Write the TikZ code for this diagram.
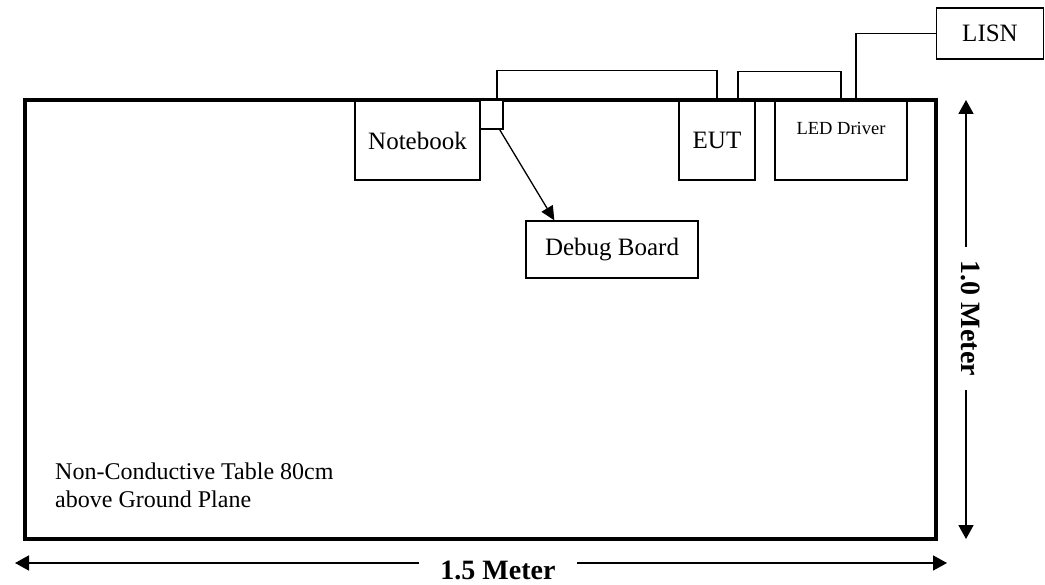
\documentclass[tikz,border=0pt]{standalone}
\usepackage{fontspec}
\setmainfont{Liberation Serif}
\usetikzlibrary{arrows.meta}
\begin{document}
\begin{tikzpicture}[x=1pt,y=-1pt,
  box/.style={draw=black,line width=1.3pt,fill=white,inner sep=0pt,align=center,font=\fontsize{25}{28}\selectfont},
  cable/.style={draw=black,line width=1.3pt},
  dimarrow/.style={draw=black,line width=1.8pt,{Triangle[length=14pt,width=15pt]}-{Triangle[length=14pt,width=15pt]}},
  dimlabel/.style={fill=white,inner sep=0pt,font=\fontsize{28}{30}\selectfont\bfseries}]
\useasboundingbox (0,0) rectangle (1045,585);
% table
\node[draw=black,line width=3.2pt,minimum width=911pt,minimum height=439pt,inner sep=0pt] (table) at (480.5,319.5) {};
% devices
\node[box,minimum width=125pt,minimum height=79pt] (notebook) at (417.5,140.5) {Notebook};
\node[box,minimum width=23pt,minimum height=29pt] (port) at (491.5,114.5) {};
\node[box,minimum width=76pt,minimum height=79pt] (eut) at (717,140.5) {EUT};
\node[box,minimum width=132pt,minimum height=79pt] (led) at (841,140.5) {};
\node[font=\fontsize{18.5}{20}\selectfont,inner sep=0pt] (ledtext) at (841,128) {LED Driver};
\node[box,minimum width=107pt,minimum height=51pt] (lisn) at (990,33.5) {LISN};
\node[box,minimum width=172pt,minimum height=57pt] (debug) at (612,249.5) {Debug Board};
% cables
\draw[cable] ([xshift=5.5pt]port.north) -- ++(0,-29) -| (eut.north);
\draw[cable] ([xshift=21pt]eut.north) -- ++(0,-29) -| (led.north);
\draw[cable] ([xshift=15pt]led.north) |- (lisn.west);
\draw[cable,-{Triangle[length=14pt,width=13pt]}] ([xshift=-4pt]port.south east) -- ([xshift=29pt]debug.north west);
% table label
\node[anchor=west,align=left,inner sep=0pt,font=\fontsize{24}{28}\selectfont] (note) at (55,485) {Non-Conductive Table 80cm\\above Ground Plane};
% dimensions
\coordinate (vtop) at (966,100);
\coordinate (vbot) at (966,539);
\coordinate (hl) at (15,563);
\coordinate (hr) at (947,563);
\draw[dimarrow] (vbot) -- (vtop);
\draw[dimarrow] (hl) -- (hr);
\node[dimlabel,rotate=-90,minimum width=143pt,minimum height=10pt] (vlabel) at (971,318.5) {1.0 Meter};
\node[dimlabel,minimum width=158pt,minimum height=18pt] (hlabel) at (498,570) {1.5 Meter};
\end{tikzpicture}
\end{document}
